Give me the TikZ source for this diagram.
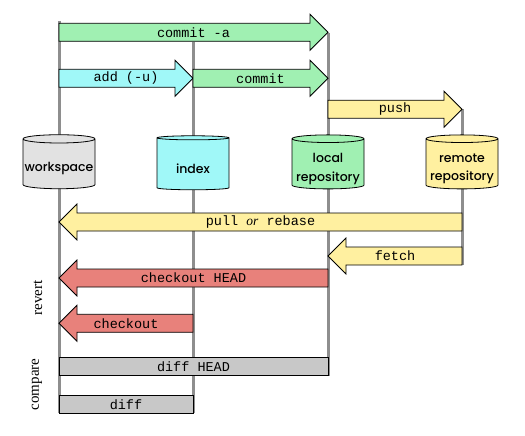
\documentclass[tikz,border=0pt]{standalone}
\usepackage{fontspec}
\setmainfont{Liberation Serif}
\setmonofont{Liberation Mono}
\newfontfamily\storefont{Poppins}[UprightFont={* Medium}]
\usetikzlibrary{shapes.geometric}
\definecolor{wsgray}{HTML}{E2E2E2}
\definecolor{idxcyan}{HTML}{A0F8F8}
\definecolor{locgreen}{HTML}{A0F0B2}
\definecolor{remyellow}{HTML}{FFF0A0}
\definecolor{revred}{HTML}{E8817B}
\definecolor{cmpgray}{HTML}{C8C8C8}
\definecolor{lanegray}{HTML}{8E8E8E}
\begin{document}
\begin{tikzpicture}[
  x=1pt,y=-1pt,
  lane/.style={draw=lanegray,line width=3pt},
  store/.style={cylinder,shape border rotate=90,draw,line width=.8pt,aspect=0.12,
    minimum width=72pt,minimum height=54pt,inner sep=0pt,
    font=\storefont\fontsize{12.5}{18.5}\selectfont},
  storetext/.style={align=center,inner sep=0pt,yshift=-5pt,
    font=\storefont\fontsize{12.5}{18.5}\selectfont},
  arw/.style={draw,line width=.8pt},
  cmd/.style={font=\fontsize{13.5}{14}\ttfamily,inner sep=0pt},
  side/.style={font=\fontsize{15}{16}\selectfont,rotate=90}]
  \useasboundingbox (0,0) rectangle (525,436);
  % lanes behind everything
  \coordinate (wsx) at (59,0);
  \coordinate (idxx) at (193,0);
  \coordinate (locx) at (328,0);
  \coordinate (remx) at (462,0);
  \draw[lane] (wsx |- 0,21) -- (wsx |- 0,413);
  \draw[lane] (idxx |- 0,42) -- (idxx |- 0,413);
  \draw[lane] (locx |- 0,33) -- (locx |- 0,376);
  \draw[lane] (remx |- 0,109) -- (remx |- 0,265);

  % the four stores, labels set a little low like the original
  \node[store,fill=wsgray] (ws) at (59,164) {\phantom{workspace}};
  \node[store,fill=idxcyan] (idx) at (193,164) {\phantom{index}};
  \node[store,fill=locgreen] (loc) at (328,164) {\phantom{repository}};
  \node[store,fill=remyellow] (rem) at (462,164) {\phantom{repository}};
  \node[storetext] (wslbl) at (ws.center) {workspace};
  \node[storetext] (idxlbl) at (idx.center) {index};
  \node[storetext] (loclbl) at (loc.center) {local\\repository};
  \node[storetext] (remlbl) at (rem.center) {remote\\repository};

  % commands moving data to the right
  \foreach \xa/\xb/\y/\c/\n/\t in {
      59/328/32.3/locgreen/cmta/{commit -a},
      59/193/78.3/idxcyan/add/{add (-u)},
      193/328/78.3/locgreen/cmt/{commit},
      328/462/109.2/remyellow/push/{push}} {
    \draw[arw,fill=\c] (\xa,\y-9) -- (\xb-18,\y-9) -- (\xb-18,\y-18) -- (\xb,\y)
      -- (\xb-18,\y+18) -- (\xb-18,\y+9) -- (\xa,\y+9) -- cycle;
    \node[cmd] (\n) at ({(\xa+\xb)/2},\y) {\t};
  }

  % commands moving data to the left
  \foreach \xa/\xb/\y/\c/\n/\t in {
      59/462/222/remyellow/pull/{pull {\rmfamily\itshape or} rebase},
      328/462/256/remyellow/fetch/{fetch},
      59/328/278/revred/cohead/{checkout HEAD},
      59/193/323.3/revred/co/{checkout}} {
    \draw[arw,fill=\c] (\xb,\y-9) -- (\xa+18,\y-9) -- (\xa+18,\y-18) -- (\xa,\y)
      -- (\xa+18,\y+18) -- (\xa+18,\y+9) -- (\xb,\y+9) -- cycle;
    \node[cmd] (\n) at ({(\xa+\xb)/2},\y) {\t};
  }

  % comparisons
  \draw[arw,fill=cmpgray] (59,357.3) rectangle (328,375.7);
  \node[cmd] (diffhead) at (193.5,366.5) {diff HEAD};
  \draw[arw,fill=cmpgray] (59,395.3) rectangle (193,413.3);
  \node[cmd] (diff) at (126,404.3) {diff};

  \node[side] (revert) at (38,298) {revert};
  \node[side] (compare) at (37,384.5) {compare};
\end{tikzpicture}
\end{document}
